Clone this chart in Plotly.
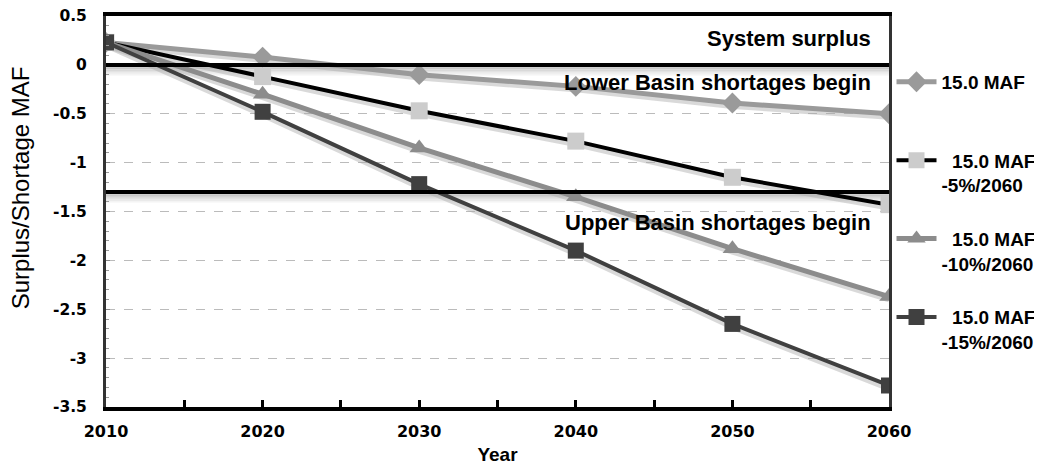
import plotly.graph_objects as go

years = [2010, 2020, 2030, 2040, 2050, 2060]
s_base = [0.23, 0.08, -0.10, -0.22, -0.39, -0.50]
s_5 = [0.23, -0.12, -0.47, -0.78, -1.15, -1.43]
s_10 = [0.23, -0.30, -0.85, -1.35, -1.88, -2.37]
s_15 = [0.23, -0.48, -1.22, -1.90, -2.65, -3.28]
NB = "\u00a0"
names = ["15.0 MAF<br>" + NB,
         NB * 2 + "15.0 MAF<br>-5%/2060",
         NB * 2 + "15.0 MAF<br>-10%/2060",
         NB * 2 + "15.0 MAF<br>-15%/2060"]
ytick_vals = [0.5, 0, -0.5, -1, -1.5, -2, -2.5, -3, -3.5]
ytick_text = ["0.5", "0", "-0.5", "-1", "-1.5", "-2", "-2.5", "-3", "-3.5"]
xtick_vals = [2010, 2020, 2030, 2040, 2050, 2060]
threshold_levels = [0, -1.3]

FONT = "Liberation Sans, Arial, sans-serif"
TICKFONT = "DejaVu Sans, Verdana, sans-serif"
fig = go.Figure()

styles = [
    dict(line=dict(color="#9a9a9a", width=5), marker=dict(symbol="diamond", size=16, color="#9a9a9a")),
    dict(line=dict(color="#000000", width=4), marker=dict(symbol="square", size=17, color="#cccccc")),
    dict(line=dict(color="#8c8c8c", width=5), marker=dict(symbol="triangle-up", size=17, color="#8c8c8c")),
    dict(line=dict(color="#404040", width=4), marker=dict(symbol="square", size=16, color="#404040")),
]
series = [s_base, s_5, s_10, s_15]

for s in series:
    fig.add_trace(go.Scatter(x=years, y=[v - 0.035 for v in s], mode="lines",
                             line=dict(color="rgba(170,170,170,0.45)", width=5),
                             showlegend=False, hoverinfo="skip"))

for s, nm, st, g in zip(series, names, styles, range(4)):
    fig.add_trace(go.Scatter(x=years, y=s, mode="lines+markers", name=nm,
                             legendgroup=str(g), **st))

for lvl in threshold_levels:
    for k, op in enumerate([0.35, 0.25, 0.15, 0.08]):
        fig.add_shape(type="line", xref="x", yref="y", x0=2010, x1=2060,
                      y0=lvl - 0.03 - 0.022 * k, y1=lvl - 0.03 - 0.022 * k,
                      line=dict(color=f"rgba(120,120,120,{op})", width=2.5), layer="below")
    fig.add_shape(type="line", xref="x", yref="y", x0=2010, x1=2060, y0=lvl, y1=lvl,
                  line=dict(color="black", width=4))

labels = [("System surplus", 0.27), ("Lower Basin shortages begin", -0.185),
          ("Upper Basin shortages begin", -1.61)]
for txt, yv in labels:
    fig.add_annotation(x=2059.0, y=yv, xref="x", yref="y", text=txt,
                       showarrow=False, xanchor="right", yanchor="middle",
                       font=dict(family=FONT, size=22, color="black", weight="bold"))

fig.add_annotation(x=-0.1095, y=0.56, xref="paper", yref="paper",
                   text="Surplus/Shortage MAF", textangle=-90, showarrow=False,
                   xanchor="center", yanchor="middle",
                   font=dict(family=FONT, size=24, color="black"))

W, H = 1034, 459
fig.update_layout(
    width=W, height=H,
    margin=dict(l=98, r=W - (889 - 8), t=8, b=H - (407 - 8), autoexpand=False),
    paper_bgcolor="white", plot_bgcolor="white",
    font=dict(family=FONT, color="black"),
    legend=dict(x=1.0032, y=0.88, xanchor="left", yanchor="top",
                traceorder="grouped", tracegroupgap=26, valign="top",
                font=dict(family=FONT, size=19, color="black", weight="bold"),
                bgcolor="rgba(0,0,0,0)", itemwidth=40),
)
fig.update_xaxes(range=[2010, 2060], tickvals=xtick_vals,
                 tickfont=dict(size=16, family=TICKFONT, weight="bold"),
                 ticklabelstandoff=7, ticklabeloverflow="allow",
                 showline=True, linecolor="black", linewidth=4, mirror=True,
                 ticks="inside", ticklen=7, tickwidth=3, tickcolor="black",
                 minor=dict(dtick=5, ticks="inside", ticklen=7, tickwidth=3, tickcolor="black"),
                 showgrid=False, zeroline=False, automargin=False,
                 title=dict(text="Year", font=dict(size=19, family=FONT, weight="bold"), standoff=8))
fig.update_yaxes(range=[-3.5, 0.5], tickvals=ytick_vals, ticktext=ytick_text,
                 tickfont=dict(size=15.5, family=TICKFONT, weight="bold"),
                 ticklabelstandoff=13, ticklabeloverflow="allow",
                 showline=True, linecolor="#333333", linewidth=3, mirror=True,
                 ticks="inside", ticklen=4, tickwidth=1, tickcolor="#888888",
                 minor=dict(dtick=0.1, ticks="inside", ticklen=3, tickwidth=1, tickcolor="#999999"),
                 showgrid=True, gridcolor="#bbbbbb", griddash="dash", gridwidth=1,
                 zeroline=False, automargin=False)

fig.write_html("out.html")
